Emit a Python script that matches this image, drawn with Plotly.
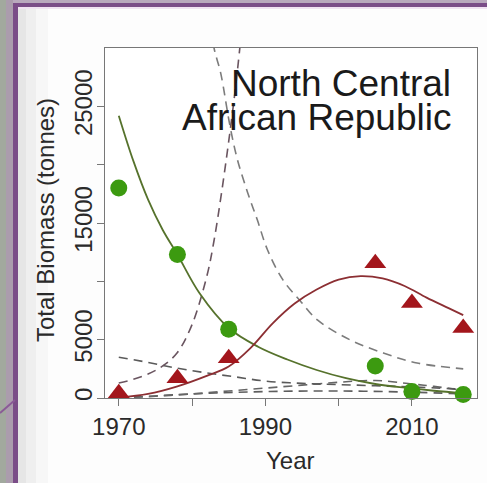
import plotly.graph_objects as go

# Survey estimates
obs_years = [1970, 1978, 1985, 2005, 2010, 2017]
green_obs = [18000, 12300, 5900, 2750, 550, 300]
red_obs = [400, 1700, 3400, 11550, 8150, 6000]

# Fitted totals
green_fit_years = [1970, 1972, 1974, 1976, 1978, 1981, 1985, 1989, 1993, 1997, 2001, 2005, 2009, 2013, 2017]
green_fit = [24200, 20300, 17000, 14400, 12300, 9000, 6000, 4400, 3300, 2400, 1700, 1200, 880, 620, 420]

red_fit_years = [1970, 1974, 1978, 1982, 1985, 1988, 1991, 1994, 1997, 2000, 2003, 2006, 2009, 2012, 2015, 2017]
red_fit = [50, 350, 1000, 1900, 2700, 4300, 6400, 8100, 9300, 10150, 10450, 10250, 9600, 8600, 7700, 7100]

# Projection / component curves (dashed)
rise_years = [1970, 1972, 1974, 1976, 1978, 1980, 1982, 1983, 1984, 1985, 1986, 1987]
rise_vals = [1290, 1600, 2050, 2750, 3900, 6300, 10400, 13500, 17500, 22000, 27000, 33000]

fall_years = [1982.4, 1983.0, 1983.9, 1985.2, 1986.2, 1987.6, 1988.9, 1990.3, 1992.4, 1994.8, 1997.1, 2001.6, 2006.1, 2010.7, 2017]
fall_vals = [33000, 30000, 27870, 23240, 20410, 17580, 15270, 12690, 10120, 8300, 6690, 4970, 3860, 3000, 2500]

upper_years = [1970, 1974, 1978, 1982, 1986, 1990, 1995, 2000, 2005, 2010, 2017]
upper_vals = [3500, 3050, 2550, 2150, 1800, 1450, 1250, 1150, 1050, 950, 750]

mid_years = [1970, 1975, 1980, 1985, 1990, 1995, 2000, 2005, 2010, 2013, 2017]
mid_vals = [0, 150, 350, 600, 850, 1100, 1350, 1500, 1200, 1000, 650]

low_years = [1970, 1980, 1990, 2000, 2010, 2017]
low_vals = [0, 350, 550, 600, 500, 350]

x_ticks = [1970, 1980, 1990, 2000, 2010]
x_labels = ["1970", "", "1990", "", "2010"]
y_ticks = [0, 5000, 10000, 15000, 20000, 25000]
y_labels = ["0", "5000", "", "15000", "", "25000"]

W, H = 487, 483
# plot box in pixels
BX0, BX1, BY0, BY1 = 105, 477, 48, 398


def fx(x):
    return x / W


def fy(y):
    return 1 - y / H


FONT = "Liberation Sans, Arial, sans-serif"
DASH = "9px,6px"

fig = go.Figure()

for xs, ys, col in [
    (low_years, low_vals, "#5e5e5e"),
    (mid_years, mid_vals, "#666666"),
    (upper_years, upper_vals, "#5a5a5a"),
    (fall_years, fall_vals, "#7c7c7c"),
    (rise_years, rise_vals, "#6a5560"),
]:
    fig.add_trace(go.Scatter(x=xs, y=ys, mode="lines",
                             line=dict(color=col, width=1.6, dash=DASH, shape="spline"),
                             showlegend=False, hoverinfo="skip"))

fig.add_trace(go.Scatter(x=green_fit_years, y=green_fit, mode="lines",
                         line=dict(color="#56722c", width=1.8, shape="spline"), showlegend=False))
fig.add_trace(go.Scatter(x=red_fit_years, y=red_fit, mode="lines",
                         line=dict(color="#8c2f33", width=1.8, shape="spline"), showlegend=False))

fig.add_trace(go.Scatter(x=obs_years, y=green_obs, mode="markers",
                         marker=dict(symbol="circle", size=17, color="#3c9a10"),
                         showlegend=False, cliponaxis=False))
fig.add_trace(go.Scatter(x=obs_years, y=red_obs, mode="markers",
                         marker=dict(symbol="triangle-up", size=19, color="#a3161c"),
                         showlegend=False, cliponaxis=False))


def rect(x0, x1, y0, y1, color):
    return dict(type="rect", xref="paper", yref="paper", layer="below",
                x0=fx(x0), x1=fx(x1), y0=fy(y1), y1=fy(y0),
                fillcolor=color, line=dict(width=0))


shapes = [
    # slide frame
    rect(0, 6, 0, H, "#a2a99e"),
    rect(6, 13, 0, H, "#ab9cad"),
    rect(13, W, 0, 3, "#b9a9bd"),
    rect(13, 18, 3, H, "#7b4d88"),
    rect(13, W, 3, 7, "#7b4d88"),
    rect(18, W, 7, 9, "#f1e3f2"),
    rect(18, 26, 9, H, "#e6e6e6"),
    rect(26, 36, 9, H, "#efefef"),
    rect(36, 48, 9, H, "#f7f7f7"),
    dict(type="line", xref="paper", yref="paper", layer="below",
         x0=fx(0), x1=fx(15), y0=fy(413), y1=fy(400), line=dict(color="#8a5a96", width=2)),
]

annotations = [
    dict(text="North Central", x=fx(453), y=fy(83), xref="paper", yref="paper",
         xanchor="right", yanchor="middle", showarrow=False,
         font=dict(family=FONT, size=37, color="#1a1a1a")),
    dict(text="African Republic", x=fx(453), y=fy(118), xref="paper", yref="paper",
         xanchor="right", yanchor="middle", showarrow=False,
         font=dict(family=FONT, size=37, color="#1a1a1a")),
    dict(text="Year", x=fx(290), y=fy(460), xref="paper", yref="paper",
         xanchor="center", yanchor="middle", showarrow=False,
         font=dict(family=FONT, size=24, color="#2a2a2a")),
    dict(text="Total Biomass (tonnes)", x=fx(45), y=fy(220), xref="paper", yref="paper",
         xanchor="center", yanchor="middle", showarrow=False, textangle=-90,
         font=dict(family=FONT, size=24, color="#2a2a2a")),
]

axis_common = dict(showline=True, mirror=True, linecolor="#777777", linewidth=1.2,
                   ticks="outside", ticklen=7, tickcolor="#777777", tickwidth=1.2,
                   showgrid=False, zeroline=False, automargin=False,
                   tickfont=dict(family=FONT, size=24, color="#2a2a2a"))

fig.update_layout(
    width=W, height=H,
    margin=dict(l=0, r=0, t=0, b=0),
    paper_bgcolor="#fdfdfd", plot_bgcolor="#ffffff",
    shapes=shapes, annotations=annotations,
    xaxis=dict(range=[1968.12, 2018.88], tickvals=x_ticks, ticktext=x_labels,
               domain=[fx(BX0), fx(BX1)], **axis_common),
    yaxis=dict(range=[0, 30000], tickvals=y_ticks, ticktext=y_labels, tickangle=-90,
               domain=[fy(BY1), fy(BY0)], ticklabelstandoff=-5, **axis_common),
)

fig.write_html("out.html")
